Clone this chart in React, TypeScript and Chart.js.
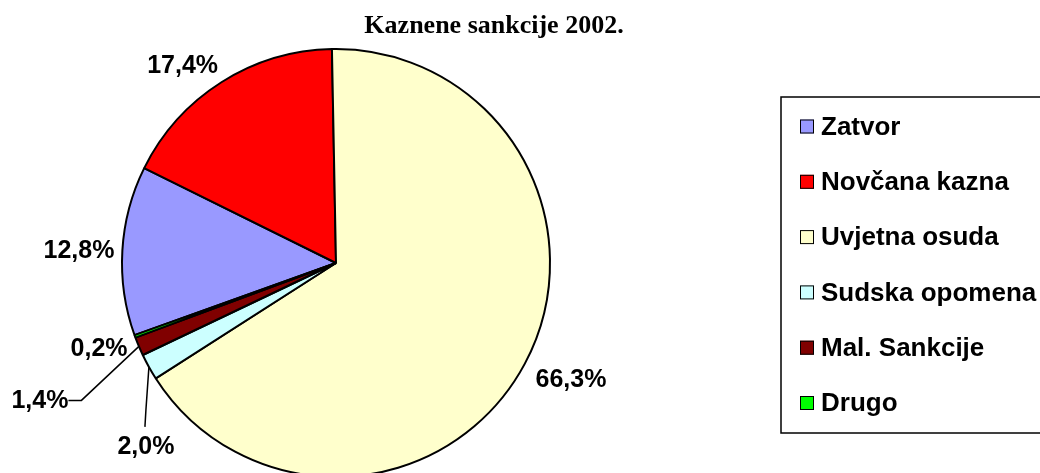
import { useEffect, useRef } from "react";
import { Chart, ArcElement, PieController } from "chart.js";

Chart.register(ArcElement, PieController);

const chartTitle = "Kaznene sankcije 2002.";
const categories = ["Zatvor", "Novčana kazna", "Uvjetna osuda", "Sudska opomena", "Mal. Sankcije", "Drugo"];
const shares = [12.8, 17.4, 66.3, 2.0, 1.4, 0.2];
const sliceColors = ["#9999FF", "#FF0000", "#FFFFCC", "#CCFFFF", "#800000", "#00FF00"];

const fmt = (v: number) => v.toFixed(1).replace(".", ",") + "%";

// label placement tweaks (Excel dragged labels with leader lines), relative to slice edge
const manualLabels: Record<number, { dx: number; dy: number; leader: "h" | "v" }> = {
  3: { dx: -3, dy: 79, leader: "v" },
  4: { dx: -99, dy: 54, leader: "h" },
};

const decor = {
  id: "excelDecor",
  afterDraw(chart: any) {
    const ctx: CanvasRenderingContext2D = chart.ctx;
    ctx.save();
    ctx.fillStyle = "#000";
    ctx.strokeStyle = "#000";

    // title
    ctx.font = 'bold 26px "Liberation Serif", "Times New Roman", serif';
    ctx.textAlign = "center";
    ctx.textBaseline = "alphabetic";
    ctx.fillText(chartTitle, 494, 33);

    // data labels
    const meta = chart.getDatasetMeta(0);
    ctx.font = 'bold 25px "Liberation Sans", Arial, sans-serif';
    ctx.textBaseline = "middle";
    ctx.textAlign = "center";
    ctx.lineWidth = 1.5;
    meta.data.forEach((arc: any, i: number) => {
      const { x, y, startAngle, endAngle, outerRadius } = arc.getProps(
        ["x", "y", "startAngle", "endAngle", "outerRadius"],
        true
      );
      const a = (startAngle + endAngle) / 2;
      const ux = Math.cos(a);
      const uy = Math.sin(a);
      const text = fmt(shares[i]);
      const w = ctx.measureText(text).width;
      const h = 20;
      const man = manualLabels[i];
      if (man) {
        const ex = x + ux * outerRadius;
        const ey = y + uy * outerRadius;
        const lx = ex + man.dx;
        const ly = ey + man.dy;
        ctx.fillText(text, lx, ly + 1);
        ctx.beginPath();
        if (man.leader === "h") {
          ctx.moveTo(lx + w / 2, ly);
          ctx.lineTo(lx + w / 2 + 13, ly);
        } else {
          ctx.moveTo(lx - 1, ly - 19);
          ctx.lineTo(lx, ly - 36);
        }
        ctx.lineTo(ex, ey);
        ctx.stroke();
      } else {
        const px = x + ux * (outerRadius + 10);
        const py = y + uy * (outerRadius + 10);
        const cl = (v: number) => Math.max(-1, Math.min(1, v * 2));
        ctx.fillText(text, px + (cl(ux) * w) / 2 + 2, py + (cl(uy) * h) / 2 + 2.5);
      }
    });

    // legend
    ctx.lineWidth = 1.5;
    ctx.strokeRect(781, 97, 320, 336);
    ctx.font = 'bold 26px "Liberation Sans", Arial, sans-serif';
    ctx.textAlign = "left";
    ctx.textBaseline = "middle";
    const labels: string[] = chart.data.labels;
    const cols: string[] = chart.data.datasets[0].backgroundColor;
    labels.forEach((lab, i) => {
      const yy = 126.5 + i * 55.3;
      ctx.fillStyle = cols[i];
      ctx.fillRect(800, yy - 7, 14, 14);
      ctx.lineWidth = 1;
      ctx.strokeRect(800.5, yy - 6.5, 13, 13);
      ctx.fillStyle = "#000";
      ctx.fillText(lab, 821, yy + 1);
    });
    ctx.restore();
  },
};

export default function App() {
  const ref = useRef<HTMLCanvasElement>(null);
  useEffect(() => {
    const chart = new Chart(ref.current as HTMLCanvasElement, {
      type: "pie",
      data: {
        labels: categories,
        datasets: [
          {
            data: shares,
            backgroundColor: sliceColors,
            borderColor: "#000",
            borderWidth: 2,
          },
        ],
      },
      options: {
        responsive: false,
        animation: false,
        events: [],
        rotation: -109.7,
        radius: 214,
        layout: { padding: { left: 86, right: 454, top: 13, bottom: 27 } },
      } as any,
      plugins: [decor],
    });
    return () => chart.destroy();
  }, []);
  return (
    <div
      style={{
        position: "fixed",
        left: 0,
        top: 0,
        width: 1040,
        height: 473,
        overflow: "hidden",
        background: "#fff",
      }}
    >
      <canvas ref={ref} width={1040} height={540} style={{ display: "block", width: 1040, height: 540 }} />
    </div>
  );
}
